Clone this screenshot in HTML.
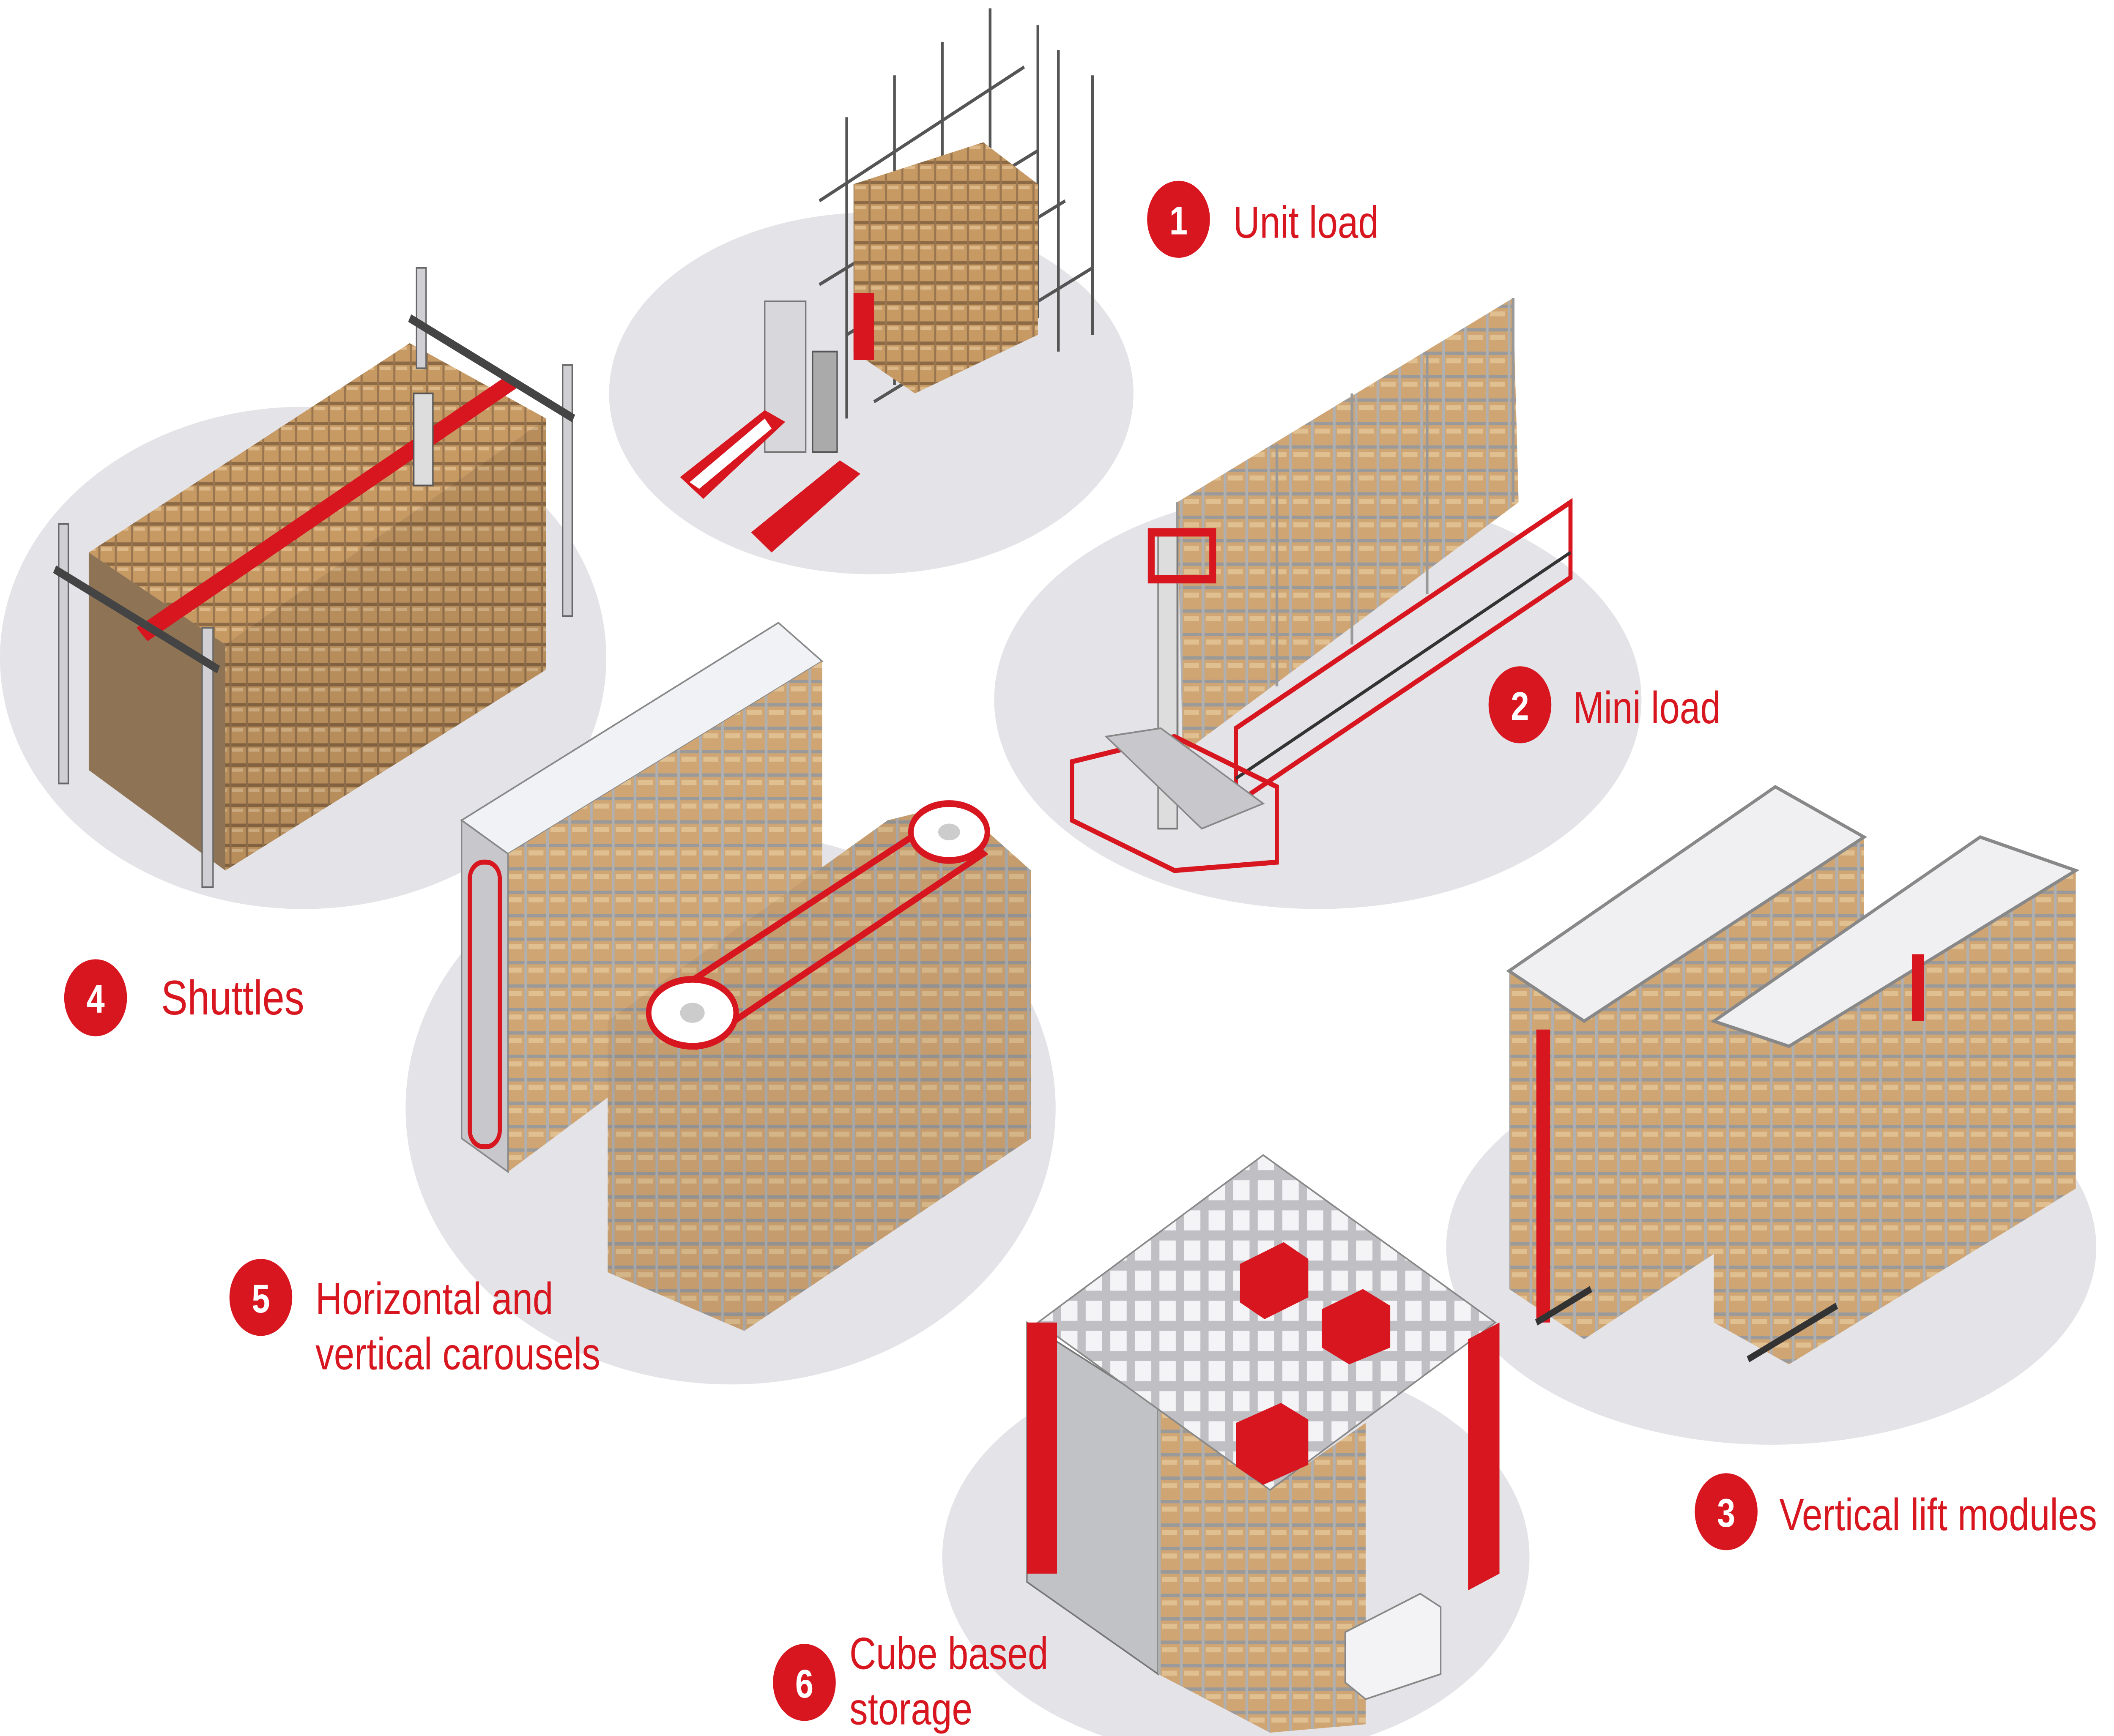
<!DOCTYPE html>
<html><head><meta charset="utf-8">
<style>
html,body{margin:0;padding:0;background:#fff;width:100%;height:100%;overflow:hidden;}
svg{display:block;position:fixed;left:0;top:0;width:100vw;height:100vh;}
text{font-family:"Liberation Sans",sans-serif;fill:#d7161f;}
</style></head><body>
<svg viewBox="0 0 1548 1037" preserveAspectRatio="none" xmlns="http://www.w3.org/2000/svg">
<defs>
<pattern id="bx" width="12" height="12" patternUnits="userSpaceOnUse">
<rect width="12" height="12" fill="#c79a64"/>
<rect width="12" height="2" fill="#8c6a45"/>
<rect width="1.5" height="12" fill="#9a7650"/>
<rect x="2" y="3" width="8" height="2" fill="#dcb889"/>
</pattern>
<pattern id="bx2" width="16" height="14" patternUnits="userSpaceOnUse">
<rect width="16" height="14" fill="#cfa574"/>
<rect width="16" height="2" fill="#9a9a9a"/>
<rect width="2" height="14" fill="#b0b0b0"/>
<rect x="3" y="4" width="11" height="3" fill="#e0bf90"/>
</pattern>
<pattern id="grid" width="18" height="18" patternUnits="userSpaceOnUse">
<rect width="18" height="18" fill="#bfbfc4"/>
<rect x="3" y="3" width="12" height="12" fill="#f4f4f6"/>
</pattern>
</defs>
<g fill="#e3e3e8">
<ellipse cx="638" cy="235" rx="192" ry="108"/>
<ellipse cx="222" cy="393" rx="222" ry="150"/>
<ellipse cx="965" cy="418" rx="237" ry="125"/>
<ellipse cx="535" cy="662" rx="238" ry="165"/>
<ellipse cx="1297" cy="745" rx="238" ry="118"/>
<ellipse cx="905" cy="930" rx="215" ry="120"/>
</g>

<g stroke="#555" stroke-width="2" fill="none">
<path d="M620 70 L620 250 M655 45 L655 230 M690 25 L690 215 M725 5 L725 200 M760 15 L760 190 M775 30 L775 210 M800 45 L800 200"/>
<path d="M600 120 L750 40 M600 170 L760 90 M620 200 L780 120 M640 240 L800 160"/>
</g>
<polygon points="625,110 720,85 760,110 760,200 670,235 625,210" fill="url(#bx)"/>
<rect x="560" y="180" width="30" height="90" fill="#d8d8dc" stroke="#777"/>
<polygon points="498,285 560,245 575,252 515,298" fill="#d7161f"/>
<polygon points="550,318 615,275 630,283 565,330" fill="#d7161f"/>
<polygon points="505,288 560,250 565,256 512,292" fill="#fff"/>
<rect x="595" y="210" width="18" height="60" fill="#aaa" stroke="#555"/>
<rect x="625" y="175" width="15" height="40" fill="#d7161f"/>

<polygon points="65,330 300,205 400,250 165,385" fill="url(#bx)"/>
<polygon points="165,385 400,250 400,400 165,520" fill="url(#bx)"/>
<polygon points="165,385 400,250 400,400 165,520" fill="#000" opacity="0.08"/>
<polygon points="65,330 165,385 165,520 65,460" fill="#8e7455"/>
<g fill="#d0d0d4" stroke="#666">
<rect x="43" y="313" width="7" height="155"/><rect x="148" y="375" width="8" height="155"/>
<rect x="305" y="160" width="7" height="60"/><rect x="412" y="218" width="7" height="150"/>
</g>
<polygon points="100,375 370,225 378,232 108,383" fill="#d7161f"/>
<path d="M40 340 L160 400 M300 190 L420 250" stroke="#444" stroke-width="5"/>
<rect x="303" y="235" width="14" height="55" fill="#ddd" stroke="#555"/>

<polygon points="862,300 1108,178 1112,300 866,450" fill="url(#bx2)"/>
<path d="M862 300 L862 450 M935 265 L935 410 M990 235 L990 385 M1045 210 L1045 355 M1108 178 L1108 300" stroke="#999" stroke-width="2"/>
<rect x="848" y="320" width="14" height="175" fill="#ddd" stroke="#777"/>
<rect x="843" y="318" width="45" height="28" fill="none" stroke="#d7161f" stroke-width="5"/>
<polygon points="905,435 1150,300 1150,345 905,480" fill="none" stroke="#d7161f" stroke-width="3"/>
<path d="M905 465 L1150 330" stroke="#333" stroke-width="2"/>
<polygon points="785,455 860,440 935,470 935,515 860,520 785,490" fill="none" stroke="#d7161f" stroke-width="3"/>
<polygon points="810,440 850,435 925,480 880,495" fill="#c8c8cc" stroke="#888"/>

<polygon points="338,490 570,372 602,395 372,510" fill="#f0f2f6" stroke="#888"/>
<polygon points="372,510 602,395 602,560 372,700" fill="url(#bx2)"/>
<polygon points="338,490 372,510 372,700 338,680" fill="#c8c8cc" stroke="#888"/>
<rect x="344" y="515" width="22" height="170" rx="10" fill="none" stroke="#d7161f" stroke-width="3"/>
<polygon points="445,610 650,490 700,480 755,520 755,680 545,795 445,760" fill="url(#bx2)"/>
<polygon points="445,610 650,490 700,480 755,520 755,680 545,795 445,760" fill="#000" opacity="0.05"/>
<path d="M480 600 L690 488 L720 510 L510 625 Z" fill="none" stroke="#d7161f" stroke-width="4"/>
<ellipse cx="507" cy="605" rx="32" ry="20" fill="#fff" stroke="#d7161f" stroke-width="4"/>
<ellipse cx="507" cy="605" rx="9" ry="6" fill="#ccc"/>
<ellipse cx="695" cy="497" rx="28" ry="17" fill="#fff" stroke="#d7161f" stroke-width="4"/>
<ellipse cx="695" cy="497" rx="8" ry="5" fill="#ccc"/>

<polygon points="1105,580 1300,470 1365,500 1365,690 1160,800 1105,770" fill="url(#bx2)"/>
<polygon points="1255,610 1450,500 1520,520 1520,710 1310,815 1255,790" fill="url(#bx2)"/>
<path d="M1105 580 L1300 470 L1365 500 L1160 610 Z M1255 610 L1450 500 L1520 520 L1310 625 Z" fill="#f0f0f2" stroke="#888" stroke-width="2"/>
<rect x="1125" y="615" width="10" height="175" fill="#d7161f"/>
<rect x="1400" y="570" width="9" height="40" fill="#d7161f"/>
<path d="M1280 812 L1345 780 M1125 790 L1165 770" stroke="#333" stroke-width="4"/>

<polygon points="752,790 848,840 848,1000 752,945" fill="#c0c2c6" stroke="#777"/>
<polygon points="848,840 930,890 1000,850 1000,1030 930,1035 848,1000" fill="url(#bx2)"/>
<polygon points="760,790 925,690 1095,790 930,890" fill="url(#grid)" stroke="#888"/>
<rect x="752" y="790" width="22" height="150" fill="#d7161f"/>
<polygon points="1075,800 1098,790 1098,940 1075,950" fill="#d7161f"/>
<g fill="#d7161f">
<polygon points="908,755 940,742 958,752 958,775 926,788 908,778"/>
<polygon points="968,782 998,770 1018,780 1018,805 988,815 968,805"/>
<polygon points="905,850 938,838 958,848 958,875 925,887 905,876"/>
</g>
<polygon points="985,975 1040,952 1055,960 1055,1000 1000,1015 985,1005" fill="#f3f3f5" stroke="#888"/>

<g fill="#d7161f">
<circle cx="863" cy="131" r="23"/><circle cx="1113" cy="421" r="23"/>
<circle cx="1264" cy="903" r="23"/><circle cx="70" cy="596" r="23"/>
<circle cx="191" cy="775" r="23"/><circle cx="589" cy="1005" r="23"/>
</g>
<g font-size="24" font-weight="bold" text-anchor="middle">
<text x="863" y="140" style="fill:#fff">1</text>
<text x="1113" y="430" style="fill:#fff">2</text>
<text x="1264" y="912" style="fill:#fff">3</text>
<text x="70" y="605" style="fill:#fff">4</text>
<text x="191" y="784" style="fill:#fff">5</text>
<text x="589" y="1014" style="fill:#fff">6</text>
</g>
<g font-size="27">
<text x="903" y="142">Unit load</text>
<text x="1152" y="432">Mini load</text>
<text x="1303" y="914">Vertical lift modules</text>
<text x="118" y="606" font-size="29">Shuttles</text>
<text x="231" y="785">Horizontal and</text>
<text x="231" y="818">vertical carousels</text>
<text x="622" y="997">Cube based</text>
<text x="622" y="1030">storage</text>
</g>
</svg>
</body></html>
